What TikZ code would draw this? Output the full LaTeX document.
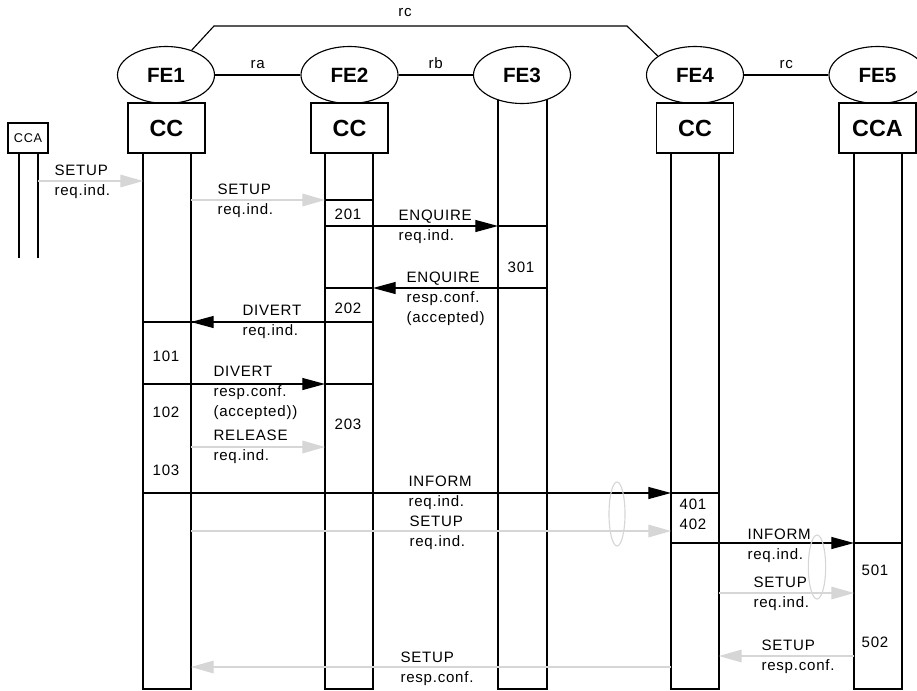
\documentclass[tikz,border=0pt]{standalone}
\usepackage{fontspec}
\setmainfont{Liberation Sans}
\newfontfamily\lblfont[LetterSpace=5]{Liberation Sans}
\usetikzlibrary{arrows.meta, shapes.geometric, calc}
\definecolor{msggray}{RGB}{214,214,214}
\tikzset{%
  fe/.style={ellipse, draw, fill=white, inner sep=0pt, minimum width=72.75pt,
             minimum height=42.75pt, font=\fontsize{15.5}{18}\selectfont\bfseries},
  ccbox/.style={rectangle, draw, fill=white, inner sep=0pt, minimum width=57.75pt,
                minimum height=37.5pt, font=\fontsize{17.5}{20}\selectfont\bfseries},
  lbl/.style={inner sep=0pt, align=left, anchor=west, font=\fontsize{11.3}{15}\selectfont\lblfont},
  num/.style={inner sep=0pt, font=\fontsize{11.3}{15}\selectfont\lblfont},
  barrow/.style={-{Triangle[length=17pt, width=9pt]}},
  garrow/.style={draw=msggray, -{Triangle[length=17pt, width=9.5pt]}},
}

\begin{document}
\begin{tikzpicture}[x=0.75pt, y=-0.75pt, line width=0.85pt]
\useasboundingbox (0,0) rectangle (917,690);

% lifeline edges
\coordinate (c0a) at (19,153);  \coordinate (c0b) at (38,153);
\coordinate (l1a) at (143,153); \coordinate (l1b) at (191,153);
\coordinate (l2a) at (325,153); \coordinate (l2b) at (373,153);
\coordinate (l3a) at (498,96);  \coordinate (l3b) at (547,96);
\coordinate (l4a) at (671,153); \coordinate (l4b) at (719,153);
\coordinate (l5a) at (854,153); \coordinate (l5b) at (902,153);

\foreach \i in {1,...,5}
  \draw (l\i a) rectangle (l\i b |- 0,689);
\draw (c0a) -- (c0a |- 0,258);
\draw (c0b) -- (c0b |- 0,258);

% functional entities
\node[fe] (fe1) at (166,75) {FE1};
\node[fe] (fe2) at (349.5,75) {FE2};
\node[fe] (fe3) at (522,75) {FE3};
\node[fe] (fe4) at (695,75) {FE4};
\node[fe] (fe5) at (877.5,75) {FE5};

\node[ccbox] (cc1) at (166.5,128) {CC};
\node[ccbox] (cc2) at (349.5,128) {CC};
\node[ccbox] (cc4) at (695,128) {CC};
\node[ccbox] (cca5) at (877.5,128) {CCA};
\node[draw, inner sep=0pt, minimum width=30pt, minimum height=22.5pt,
      font=\fontsize{9.5}{11}\selectfont\lblfont] (cca0) at (28,138) {CCA};

% relationships
\draw (fe1) -- (fe2) node[num, midway, above=4pt] (lra) {ra};
\draw (fe2) -- (fe3) node[num, midway, above=4pt] (lrb) {rb};
\draw (fe4) -- (fe5) node[num, midway, above=4pt] (lrc2) {rc};
\coordinate (rc1) at (214,26);
\coordinate (rc2) at (627,26);
\draw (fe1.44) -- (rc1) -- (rc2) -- (fe4.153);
\node[num] (lrc) at (405,13) {rc};

% state bars
\draw (l2a |- 0,200) -- (l2b |- 0,200);
\draw (l3a |- 0,226) -- (l3b |- 0,226);
\draw (l2a |- 0,288) -- (l2b |- 0,288);
\draw (l1a |- 0,322) -- (l2a |- 0,322);
\draw (l2a |- 0,384) -- (l2b |- 0,384);
\draw (l4a |- 0,493) -- (l4b |- 0,493);
\draw (l5a |- 0,543) -- (l5b |- 0,543);

% messages
\draw[garrow] (c0b |- 0,181) -- (l1a |- 0,181);
\draw[garrow] (l1b |- 0,200) -- (l2a |- 0,200);
\draw[barrow] (l2a |- 0,226) -- (l3a |- 0,226);
\draw[barrow] (l3b |- 0,288) -- (l2b |- 0,288);
\draw[barrow] (l2b |- 0,322) -- (l1b |- 0,322);
\draw[barrow] (l1a |- 0,384) -- (l2a |- 0,384);
\draw[garrow] (l1b |- 0,447) -- (l2a |- 0,447);
\draw[barrow] (l1a |- 0,493) -- (l4a |- 0,493);
\draw[garrow] (l1b |- 0,531) -- (l4a |- 0,531);
\draw[barrow] (l4a |- 0,543) -- (l5a |- 0,543);
\draw[garrow] (l4b |- 0,593) -- (l5a |- 0,593);
\draw[garrow] (l5a |- 0,656) -- (l4b |- 0,656);
\draw[garrow] (l4a |- 0,667) -- (l1b |- 0,667);

% parallel marks
\draw[msggray] (617,514) ellipse [x radius=6pt, y radius=24pt];
\draw[msggray] (817,567) ellipse [x radius=6.5pt, y radius=24pt];

% message labels
\node[lbl] (m1) at (54,182) {SETUP\\req.ind.};
\node[lbl] (m2) at (217,201) {SETUP\\req.ind.};
\node[lbl] (m3) at (398,227) {ENQUIRE\\req.ind.};
\node[lbl] (m4) at (406,299) {ENQUIRE\\resp.conf.\\(accepted)};
\node[lbl] (m5) at (242,322) {DIVERT\\req.ind.};
\node[lbl] (m6) at (213,393) {DIVERT\\resp.conf.\\(accepted))};
\node[lbl] (m7) at (213,447) {RELEASE\\req.ind.};
\node[lbl] (m8) at (408,493) {INFORM\\req.ind.};
\node[lbl] (m9) at (409,533) {SETUP\\req.ind.};
\node[lbl] (m10) at (747,546) {INFORM\\req.ind.};
\node[lbl] (m11) at (753,594) {SETUP\\req.ind.};
\node[lbl] (m12) at (761,657) {SETUP\\resp.conf.};
\node[lbl] (m13) at (400,669) {SETUP\\resp.conf.};

% state numbers
\node[num] (n201) at (348,214) {201};
\node[num] (n301) at (521,267) {301};
\node[num] (n202) at (348,308) {202};
\node[num] (n101) at (166,356) {101};
\node[num] (n102) at (166,412) {102};
\node[num] (n203) at (348,424) {203};
\node[num] (n103) at (166,470) {103};
\node[num] (n401) at (693,504) {401};
\node[num] (n402) at (693,524) {402};
\node[num] (n501) at (875,570) {501};
\node[num] (n502) at (875,642) {502};

\end{tikzpicture}
\end{document}
